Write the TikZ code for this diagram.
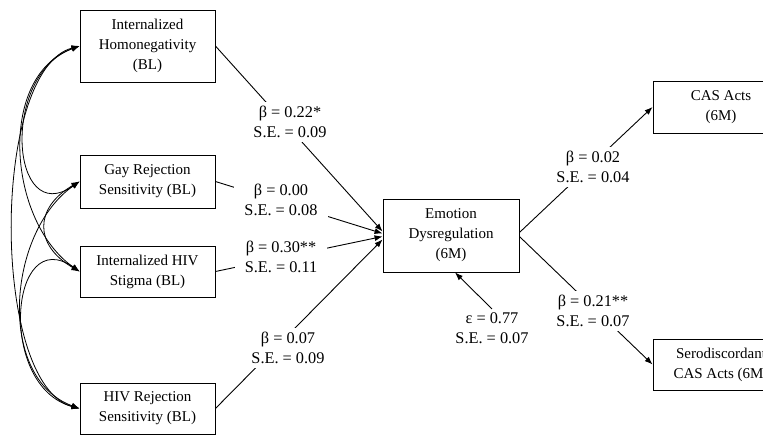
\documentclass[tikz,border=0pt]{standalone}
\usepackage{fontspec}
\setmainfont{Liberation Serif}
\usetikzlibrary{arrows.meta}

\tikzset{
  varbox/.style={draw, line width=0.9pt, minimum width=135pt, align=center, inner sep=2pt, font=\fontsize{15}{20}\selectfont},
  coefflabel/.style={fill=white, align=center, inner xsep=10pt, inner ysep=4pt, font=\fontsize{16.3}{20}\selectfont},
  regarrow/.style={line width=0.9pt, -{Latex[length=8pt,width=6pt]}},
  covarrow/.style={line width=0.8pt, {Latex[length=8pt,width=6pt]}-{Latex[length=8pt,width=6pt]}},
}

\begin{document}
\begin{tikzpicture}[x=1pt,y=1pt]
\useasboundingbox (0,0) rectangle (763,-435);

% baseline measures
\node[varbox, minimum height=72pt] (IH) at (147.5,-46) {Internalized\\Homonegativity\\(BL)};
\node[varbox, minimum height=53pt] (GRS) at (147.5,-181.5) {Gay Rejection\\Sensitivity (BL)};
\node[varbox, minimum height=51pt] (IHS) at (147.5,-271.5) {Internalized HIV\\Stigma (BL)};
\node[varbox, minimum height=51pt] (HRS) at (147.5,-408.5) {HIV Rejection\\Sensitivity (BL)};

% 6M measures
\node[varbox, minimum width=136pt, minimum height=73pt] (ED) at (451,-235.5) {Emotion\\Dysregulation\\(6M)};
\node[varbox, minimum width=136pt, minimum height=52pt] (CAS) at (721,-107) {CAS Acts\\(6M)};
\node[varbox, minimum width=136pt, minimum height=51pt] (SCAS) at (721,-364.5) {Serodiscordant\\CAS Acts (6M)};

\node[align=center, font=\fontsize{16.3}{20}\selectfont] (eps) at (492,-328) {ε = 0.77\\S.E. = 0.07};

% covariances
\draw[covarrow] (IH.west) to[out=195,in=165,looseness=0.65] (HRS.west);
\draw[covarrow] (IH.west) to[out=200,in=145,looseness=1] (IHS.west);
\draw[covarrow] (IH.west) to[out=200,in=215,looseness=1.6] (GRS.west);
\draw[covarrow] (GRS.west) to[out=215,in=160,looseness=1] (HRS.west);
\draw[covarrow] (GRS.west) to[out=210,in=150,looseness=1.5] (IHS.west);
\draw[covarrow] (IHS.west) to[out=145,in=165,looseness=1.6] (HRS.west);

% paths
\draw[regarrow] (IH.east) -- ([yshift=4pt]ED.west);
\draw[regarrow] (GRS.east) -- ([yshift=2pt]ED.west);
\draw[regarrow] (IHS.east) -- ([yshift=-1pt]ED.west);
\draw[regarrow] (HRS.east) -- ([yshift=-4pt]ED.west);
\draw[regarrow] ([yshift=3pt]ED.east) -- (CAS.west);
\draw[regarrow] ([yshift=-1pt]ED.east) -- (SCAS.west);
\draw[regarrow] (eps.north) -- ([xshift=4pt]ED.south);

% coefficients
\node[coefflabel] (l1) at (290,-122) {β = 0.22*\\S.E. = 0.09};
\node[coefflabel] (l2) at (281,-200) {β = 0.00\\S.E. = 0.08};
\node[coefflabel] (l3) at (281,-257) {β = 0.30**\\S.E. = 0.11};
\node[coefflabel] (l4) at (288,-348) {β = 0.07\\S.E. = 0.09};
\node[coefflabel] (l5) at (593,-167) {β = 0.02\\S.E. = 0.04};
\node[coefflabel] (l6) at (593,-311) {β = 0.21**\\S.E. = 0.07};

\end{tikzpicture}
\end{document}
